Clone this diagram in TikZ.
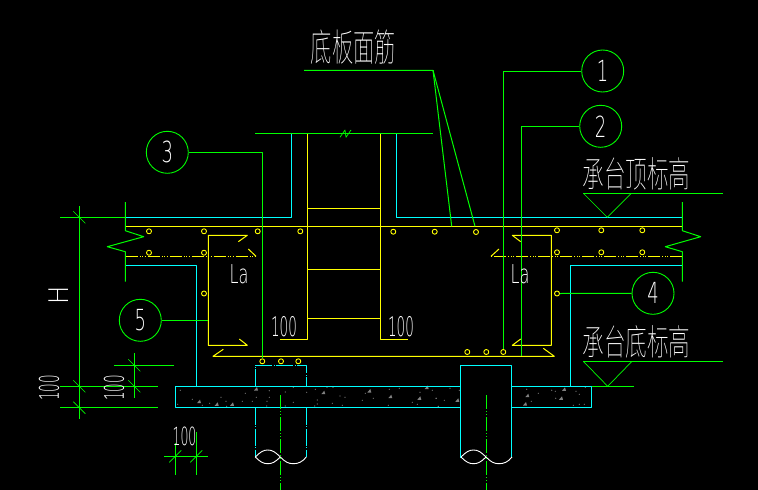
\documentclass[tikz,border=0pt]{standalone}
\usepackage{fontspec}
\newfontfamily\cjkfont{Noto Sans CJK SC Thin}
\newfontfamily\cadfont{DejaVu Sans ExtraLight}
\newcommand{\cadtext}[3]{\scalebox{#2}[1]{\fontsize{#1}{#1}\selectfont\cadfont #3}}
\newcommand{\cjktext}[3]{\scalebox{#2}[1]{\fontsize{#1}{#1}\selectfont\cjkfont #3}}
\definecolor{cadcyan}{RGB}{0,255,255}
\definecolor{cadyellow}{RGB}{255,255,0}
\definecolor{cadgreen}{RGB}{0,255,0}
\tikzset{
  gl/.style={cadgreen,line width=1pt},
  cl/.style={cadcyan,line width=1pt},
  yl/.style={cadyellow,line width=1pt},
  wl/.style={white,line width=0.9pt},
  thin gl/.style={cadgreen,line width=0.7pt},
  tag/.style={circle,draw=cadgreen,line width=0.9pt,minimum size=42pt,inner sep=0pt,text=white},
  bar/.style={circle,draw=cadyellow,line width=0.9pt,minimum size=5pt,inner sep=0pt},
  lbl/.style={text=white,inner sep=0pt},
  dotline/.style={dash pattern=on 12pt off 2pt on 1pt off 1.5pt on 1pt off 1.5pt on 1pt off 2pt},
  axisline/.style={cadgreen,line width=1pt,dash pattern=on 14pt off 2pt on 1pt off 2pt on 1pt off 2pt},
  pileline/.style={cadcyan,line width=1pt,dash pattern=on 17pt off 1.5pt on 1pt off 1.5pt}
}
\begin{document}
\begin{tikzpicture}[x=1pt,y=-1pt,line join=round]
\fill[black] (0,0) rectangle (758,490);
\useasboundingbox (0,0) rectangle (758,490);
% concrete aggregate
\foreach \x/\y in {180.3/390.3,192.3/399.3,177.7/404.3,202.3/405.3,209.7/403.3,221/397.3,226/401.3,226.7/406.3,242.3/401.3,245.3/393.3,252.3/401.3,256.3/397.3,267/401.3,266.7/406,269.3/390.7,269.3/397.3,285.3/392,285.3/406,293.3/402.3,293.3/387.3,306.7/392.3,315.3/389.3,314.7/406,317.3/400,317.3/404,327/387.3,333/387.3,340/396,345/397.3,332.3/403.3,342.3/405.3,365.3/393.3,362.3/400.3,373.3/398.3,389.3/389.3,388.3/405.3,399.3/388.3,420/392.3,412.3/402.3,417.3/404.3,432.3/390.3,436.3/398.3,438.3/406.3,450/388.3,444.3/400.3,436/398.3,438.3/406.7,459.3/390.3,526.7/389.3,538.3/393.3,531.3/401.3,551.7/390.3,555.3/391.3,555.7/398.3,576/391.3,579.3/394.3,585.3/387.3,573.3/405.3,579.3/404.3,584.3/404.3}
  {\fill[gray] (\x,\y) circle(0.6pt);}
\foreach \x/\y in {199/401.7,216.7/404.3,232/404.3,256/389,323.3/392.7,369.3/391,390.3/396.7,419.3/398.3,426.7/387.5,457.3/400.3,527.3/395.7,525/404,564/389.3,561/398.3}
  {\fill[gray] (\x-2,\y+1.5) -- (\x+2,\y+1.5) -- (\x+1,\y-2) -- cycle;}
% cushion and piles
\draw[cl] (460.3,386.3) -- (175.3,386.3) -- (175.3,407.7) -- (460.3,407.7);
\draw[cl] (511.7,386.3) -- (591.7,386.3) -- (591.7,407.7) -- (511.7,407.7);
\draw[cl] (460.3,457.5) -- (460.3,365.3) -- (511.7,365.3) -- (511.7,457.5);
\draw[pileline] (255.3,386.3) -- (255.3,365.3) -- (306.3,365.3) -- (306.3,386.3);
\draw[pileline] (255.3,407.7) -- (255.3,456.5);
\draw[pileline] (306.3,407.7) -- (306.3,456.5);
\draw[cl] (125,217.3) -- (291.7,217.3) -- (291.7,133.3);
\draw[cl] (396.3,133.3) -- (396.3,217.3) -- (682.3,217.3);
\draw[cl] (125,265.7) -- (196.3,265.7) -- (196.3,386.3);
\draw[cl] (682.3,265.7) -- (570.3,265.7) -- (570.3,386.3);
% pile ends
\foreach \x in {255.3,461}{
  \draw[wl] (\x,457) .. controls (\x+5,452) and (\x+8,450) .. (\x+12.5,450) .. controls (\x+17,450) and (\x+20,452) .. (\x+25,457)
    .. controls (\x+20,462) and (\x+17,463.7) .. (\x+12.5,463.7) .. controls (\x+8,463.7) and (\x+5,462) .. (\x,457);
  \draw[wl] (\x+25,457) .. controls (\x+30,462) and (\x+33,463.7) .. (\x+38,463.7) .. controls (\x+43,463.7) and (\x+47,462) .. (\x+51,457);
}
% reinforcement
\draw[yl] (125,226.3) -- (682.3,226.3);
\draw[yl,dotline] (125.5,256.3) -- (256,256.3);
\draw[yl] (256,256.3) -- (248.3,249);
\draw[yl,dotline] (682.3,256.3) -- (491,256.3);
\draw[yl] (491,256.3) -- (499,249);
\draw[yl] (238.3,241.7) -- (247.3,235.3) -- (208.3,235.3) -- (208.3,345.3) -- (247.3,345.3) -- (239.3,339);
\draw[yl] (520.7,241.7) -- (512.3,235.3) -- (551.3,235.3) -- (551.3,345.3) -- (512.3,345.3) -- (520.7,339);
\draw[yl] (223.3,349.3) -- (213,356.3) -- (554.3,356.3) -- (543.3,348.3);
\draw[yl] (307.3,133.3) -- (307.3,339.5) -- (280,339.5);
\draw[yl] (380.3,133.3) -- (380.3,339.5) -- (407.7,339.5);
\foreach \y in {208.3,269.3,318.3}{\draw[yl] (307.3,\y) -- (380.3,\y);}
% bars
\foreach \x/\y/\l in {149/231.3/a,204/231.3/b,257.7/231.3/c,300.3/231.3/d,393.3/231.7/e,434.7/231.7/f,476/232/g,557/230.3/h,601.3/230.3/i,642.3/230.3/j,149/252.7/k,204/252.7/m,557/252.3/n,601.3/252.3/o,642.3/252.3/p,204/293.5/q,557/293.5/r,262.3/361.3/s,281/361.3/t,298.3/361.3/u,467.3/352/v,486.3/352/w,503.3/352/x}
  {\node[bar] (bar\l) at (\x,\y) {};}
% sections and break lines
\draw[gl] (255,133.3) -- (432.7,133.3);
\draw[thin gl] (340,137.3) -- (345,130) -- (346,137.3) -- (351,130);
\draw[gl] (125.3,202) -- (125.3,230.7) -- (143.7,236.7) -- (107.3,246.7) -- (125.3,251.7) -- (125.3,281.7);
\draw[gl] (682.3,202) -- (682.3,230.7) -- (700.7,236.7) -- (665.3,246.7) -- (682.3,251.7) -- (682.3,281.7);
\draw[axisline] (280.3,395) -- (280.3,490);
\draw[axisline] (486.3,395) -- (486.3,490);
% levels
\draw[gl] (583.3,193.3) -- (723,193.3);
\draw[thin gl] (583.3,193.3) -- (607.3,217.3) -- (631.3,193.3);
\draw[gl] (583.3,361.3) -- (722.7,361.3);
\draw[thin gl] (583.3,361.3) -- (607.7,386.3) -- (632,361.3);
\draw[gl] (591.7,386.3) -- (633.7,386.3);
% dimensions
\draw[gl] (79.3,206) -- (79.3,418.7);
\draw[gl] (60,217.3) -- (125,217.3);
\draw[gl] (60,386.3) -- (158,386.3);
\draw[gl] (60,407.7) -- (158,407.7);
\draw[gl] (134.3,353.3) -- (134.3,397.7);
\draw[gl] (114,365.3) -- (174,365.3);
\draw[gl] (175.3,443) -- (175.3,475);
\draw[gl] (196.3,431.7) -- (196.3,475);
\draw[gl] (164,456.3) -- (207.7,456.3);
\foreach \x/\y in {79.3/217.3,79.3/386.3,79.3/407.7,134.3/365.3,134.3/386.3}
  {\draw[thin gl] (\x-6,\y-6) -- (\x+6,\y+6);}
\foreach \x/\y in {175.3/456.3,196.3/456.3}
  {\draw[thin gl] (\x-6,\y+6) -- (\x+6,\y-6);}
% labels
\node[tag] (tag1) at (602.7,71) {\cadtext{29}{0.62}{1}};
\node[tag] (tag2) at (600.7,126.3) {\cadtext{29}{0.62}{2}};
\node[tag] (tag3) at (167.3,152.3) {\cadtext{29}{0.62}{3}};
\node[tag] (tag4) at (653,293.3) {\cadtext{29}{0.62}{4}};
\node[tag] (tag5) at (140.3,320.3) {\cadtext{29}{0.62}{5}};
\draw[gl] (tag1.west) -| (barx.north);
\draw[gl] (tag2.west) -| (521.7,356.3);
\draw[gl] (tag3.east) -| (bars.north);
\draw[gl] (tag4.west) -- (barr.east);
\draw[gl] (tag5.east) -- (208.3,320.3);
\coordinate (topnote) at (433,70.3);
\draw[gl] (304,70.3) -- (topnote) -- (451.7,226.3);
\draw[gl] (topnote) -- (475,226.3);
\node[lbl] (notetop) at (353.5,47) {\cjktext{38}{0.56}{底板面筋}};
\node[lbl] (leveltop) at (636.5,174) {\cjktext{36}{0.6}{承台顶标高}};
\node[lbl] (levelbot) at (636.5,342) {\cjktext{36}{0.6}{承台底标高}};
\node[lbl] (lena) at (239,274) {\cadtext{26}{0.62}{La}};
\node[lbl] (lenb) at (520,274) {\cadtext{26}{0.62}{La}};
\node[lbl] (hookl) at (284,326.7) {\cadtext{27}{0.5}{100}};
\node[lbl] (hookr) at (401,326.7) {\cadtext{27}{0.5}{100}};
\node[lbl] (cushw) at (184.5,436) {\cadtext{25}{0.5}{100}};
\node[lbl,rotate=90] (dimh) at (59,295.3) {\cadtext{27}{0.9}{H}};
\node[lbl,rotate=90] (dima) at (49,388) {\cadtext{27}{0.5}{100}};
\node[lbl,rotate=90] (dimb) at (114,388) {\cadtext{27}{0.5}{100}};
\end{tikzpicture}
\end{document}
